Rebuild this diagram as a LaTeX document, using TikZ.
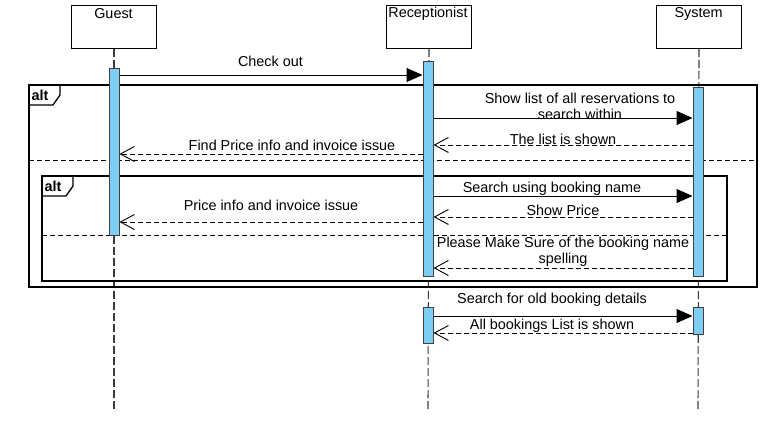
\documentclass[tikz,border=0pt]{standalone}
\usepackage{fontspec}
\setmainfont{Liberation Sans}
\usetikzlibrary{arrows.meta}
\definecolor{actblue}{RGB}{126,206,244}
\definecolor{lifegray}{RGB}{60,60,60}
\begin{document}
\begin{tikzpicture}[x=1pt,y=-1pt,
  font=\fontsize{14.4}{16.5}\selectfont,
  actor/.style={draw=black, line width=1pt, fill=white, minimum width=85pt, minimum height=43pt, inner sep=0pt, anchor=north west},
  actbar/.style={draw=black!75, line width=1pt, fill=actblue, minimum width=10pt, inner sep=0pt, anchor=north},
  lifeline/.style={draw=lifegray, line width=1.1pt, dash pattern=on 8pt off 3pt},
  syncmsg/.style={draw=black, line width=1pt, -{Triangle[length=16pt,width=14pt]}},
  retmsg/.style={draw=black, line width=0.9pt, dash pattern=on 5pt off 3pt, -{Straight Barb[length=14pt,width=15pt]}},
  frame/.style={draw=black, line width=1.3pt},
  sep/.style={draw=black, line width=1pt, dash pattern=on 5pt off 3pt},
  lbl/.style={inner sep=0pt, align=center, text=black},
  tag/.style={inner sep=0pt, text=black, font=\fontsize{14.4}{16.5}\selectfont\bfseries}]
\useasboundingbox (0,0) rectangle (767,429);

% lifelines
\coordinate (gl) at (114,410);
\coordinate (rl) at (428,410);
\coordinate (sl) at (698,410);

\node[actor] (guest) at (71,5) {};
\node[actor] (recep) at (386,5) {};
\node[actor] (sys) at (656,5) {};
\node[lbl] at (113.5,14) {Guest};
\node[lbl] at (428,14) {Receptionist};
\node[lbl] at (698.5,14) {System};

\draw[lifeline] (guest.south) -- (gl);
\draw[lifeline] (recep.south) -- (rl);
\draw[lifeline] (sys.south) -- (sl);

% frames
\draw[frame] (29,85) rectangle (757,287);
\draw[frame] (29,85) -- (60,85) -- (60,95) -- (53,105) -- (29,105);
\node[tag] at (40,95.5) {alt};
\draw[sep] (29,160.5) -- (757,160.5);

\draw[frame] (42,176) rectangle (727,281);
\draw[frame] (42,176) -- (73,176) -- (73,186) -- (66,196) -- (42,196);
\node[tag] at (53,186.5) {alt};
\draw[sep] (42,235) -- (727,235);

% activation bars
\node[actbar, minimum height=167pt] (ga) at (114,68) {};
\node[actbar, minimum height=215pt] (ra) at (428,61) {};
\node[actbar, minimum height=189pt] (sa) at (698,87) {};
\node[actbar, minimum height=36pt] (ra2) at (428,307) {};
\node[actbar, minimum height=27pt] (sa2) at (698,307) {};

% message rows
\coordinate (y1) at (0,75);
\coordinate (y2) at (0,118);
\coordinate (y3) at (0,145);
\coordinate (y4) at (0,154);
\coordinate (y5) at (0,196);
\coordinate (y6) at (0,217);
\coordinate (y7) at (0,222);
\coordinate (y8) at (0,268);
\coordinate (y9) at (0,316);
\coordinate (y10) at (0,333);

\draw[syncmsg] (ga.east |- y1) -- (ra.west |- y1);
\node[lbl] at (270.5,61.5) {Check out};

\draw[syncmsg] (ra.east |- y2) -- (sa.west |- y2);
\node[lbl] at (580,106.5) {Show list of all reservations to\\search within};

\draw[retmsg] (sa.west |- y3) -- (ra.east |- y3);
\node[lbl] at (563,139.5) {The list is shown};

\draw[retmsg] (ra.west |- y4) -- (ga.east |- y4);
\node[lbl] at (292,145.5) {Find Price info and invoice issue};

\draw[syncmsg] (ra.east |- y5) -- (sa.west |- y5);
\node[lbl] at (552,188.5) {Search using booking name};

\draw[retmsg] (sa.west |- y6) -- (ra.east |- y6);
\node[lbl] at (563,210.5) {Show Price};

\draw[retmsg] (ra.west |- y7) -- (ga.east |- y7);
\node[lbl] at (271,205.5) {Price info and invoice issue};

\draw[retmsg] (sa.west |- y8) -- (ra.east |- y8);
\node[lbl] at (563,252) {Please Make Sure of the booking name\\spelling};

\draw[syncmsg] (ra2.east |- y9) -- (sa2.west |- y9);
\node[lbl] at (552,299.5) {Search for old booking details};

\draw[retmsg] (sa2.west |- y10) -- (ra2.east |- y10);
\node[lbl] at (552,325.5) {All bookings List is shown};
\end{tikzpicture}
\end{document}
